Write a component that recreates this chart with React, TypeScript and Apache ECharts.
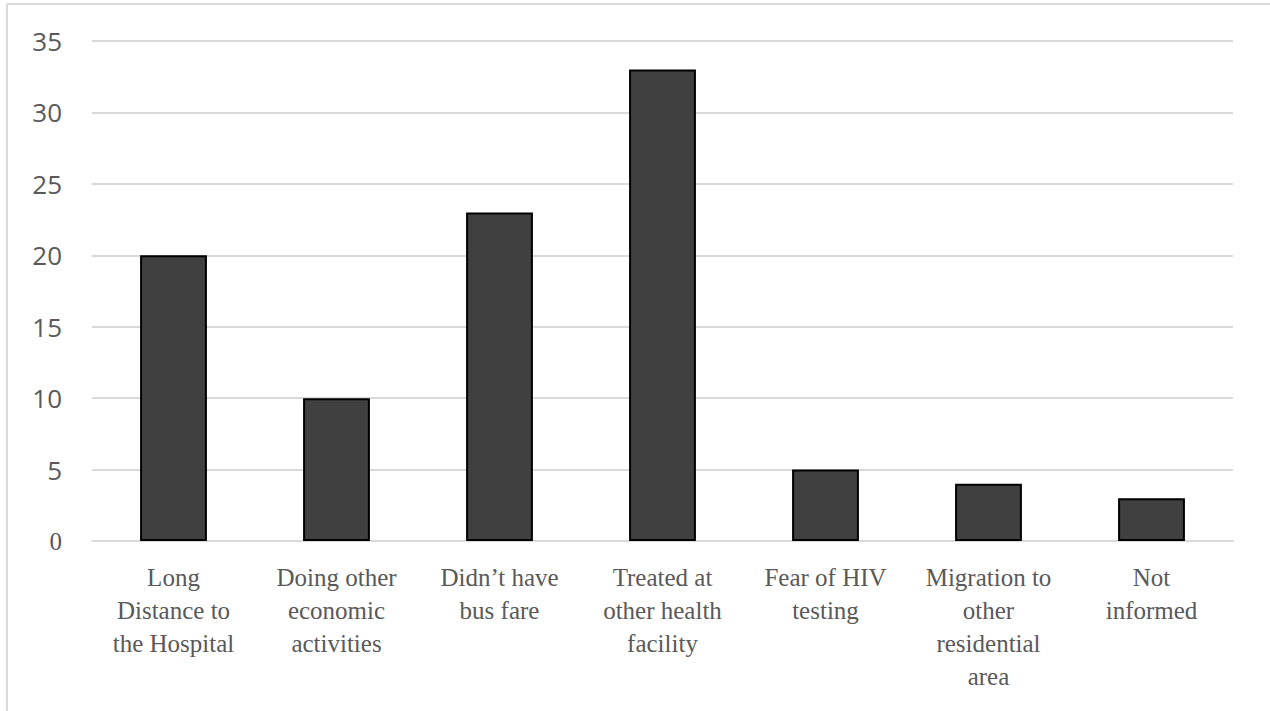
import React, { useEffect, useRef } from "react";
import * as echarts from "echarts";

const categories = [
  "Long\nDistance to\nthe Hospital",
  "Doing other\neconomic\nactivities",
  "Didn’t have\nbus fare",
  "Treated at\nother health\nfacility",
  "Fear of HIV\ntesting",
  "Migration to\nother\nresidential\narea",
  "Not\ninformed",
];
const values = [20, 10, 23, 33, 5, 4, 3];
const yTicks = [0, 5, 10, 15, 20, 25, 30, 35];

export default function App() {
  const ref = useRef<HTMLDivElement>(null);
  useEffect(() => {
    document.body.style.margin = "0";
    const chart = echarts.init(ref.current!, null, { renderer: "svg" });
    chart.setOption({
      animation: false,
      backgroundColor: "#ffffff",
      grid: { left: 92, right: 37, top: 41, bottom: 170, containLabel: false },
      graphic: [
        { type: "line", shape: { x1: 7, y1: 4, x2: 7, y2: 711 }, style: { stroke: "#d9d9d9", lineWidth: 2 } },
        { type: "line", shape: { x1: 7, y1: 4, x2: 1270, y2: 4 }, style: { stroke: "#d9d9d9", lineWidth: 2 } },
      ],
      xAxis: {
        type: "category",
        data: categories,
        axisLine: { show: true, lineStyle: { color: "#d9d9d9", width: 2 } },
        axisTick: { show: false },
        axisLabel: {
          interval: 0,
          margin: 20,
          fontFamily: "'Liberation Serif', 'Times New Roman', serif",
          fontSize: 25,
          lineHeight: 33,
          color: "#595959",
          align: "center",
        },
      },
      yAxis: {
        type: "value",
        min: 0,
        max: 35,
        interval: 5,
        axisLine: { show: false },
        axisTick: { show: false },
        splitLine: { lineStyle: { color: "#d9d9d9", width: 2 } },
        axisLabel: {
          margin: 30,
          fontSize: 26,
          color: "#595959",
          fontFamily: "'Open Sans', sans-serif",
          formatter: (v: number) => (v === yTicks[0] ? "{s|" + v + "}" : String(v)),
          rich: { s: { fontFamily: "'Liberation Serif', serif", fontSize: 25, color: "#595959" } },
        },
      },
      series: [
        {
          type: "bar",
          data: values,
          barWidth: "41%",
          itemStyle: { color: "#404040", borderColor: "#000000", borderWidth: 2 },
        },
      ],
    });
    return () => chart.dispose();
  }, []);
  return <div ref={ref} style={{ width: 1270, height: 711 }} />;
}
